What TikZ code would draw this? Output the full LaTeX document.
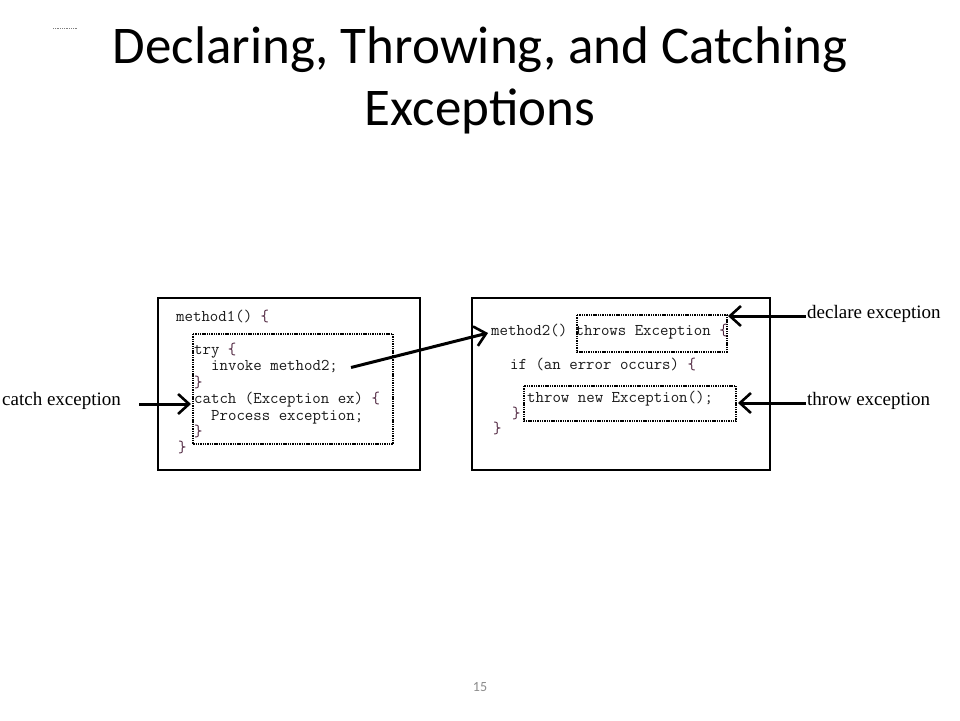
\documentclass[tikz,border=0pt]{standalone}
\usepackage{fontspec}
\setmainfont{Carlito}
\newfontfamily\labelfont{Liberation Serif}
\usetikzlibrary{arrows.meta}
\definecolor{brace}{HTML}{4A1F3A}
\definecolor{pagegray}{HTML}{8C8C8C}
\begin{document}
\begin{tikzpicture}[x=1pt,y=-1pt,
  titletext/.style={font=\fontsize{53}{60}\selectfont, anchor=base, inner sep=0pt},
  code/.style={font=\ttfamily\fontsize{16.4}{18}\selectfont, anchor=base west, inner sep=0pt, text=black!90},
  label/.style={font=\labelfont\fontsize{19}{22}\selectfont, anchor=base west, inner sep=0pt},
  panel/.style={draw=black, line width=2pt},
  region/.style={draw=black, line width=2pt, dash pattern=on 1.4pt off 0.9pt},
  pointer/.style={line width=3pt, -{Straight Barb[length=11pt,width=20pt,line width=2.6pt]}}
]
\useasboundingbox (0,0) rectangle (960,720);
\fill[white] (0,0) rectangle (960,720);

% small dotted mark and slide title
\draw[black!50, line width=0.6pt, dash pattern=on 0.8pt off 1pt] (53,28) -- (77,28);
\node[titletext] (t1) at (480,63) {Declaring, Throwing, and Catching};
\node[titletext] (t2) at (480,125) {Exceptions};

% the two method panels
\draw[panel] (158,298) rectangle (420,470);
\draw[panel] (472,298) rectangle (770,470);

% method1: try/catch region
\draw[region] (193,334) rectangle (393,444);
\node[code] (m1)     at (176,321)   {method1() \textcolor{brace}{\{}};
\node[code] (try)    at (194,354)   {try \textcolor{brace}{\{}};
\node[code] (invoke) at (211,370.5) {invoke method2;};
\node[code] (c1)     at (194,387)   {\textcolor{brace}{\}}};
\node[code] (catch)  at (194,403.5) {catch (Exception ex) \textcolor{brace}{\{}};
\node[code] (proc)   at (211,420)   {Process exception;};
\node[code] (c2)     at (194,436.5) {\textcolor{brace}{\}}};
\node[code] (c3)     at (178,452)   {\textcolor{brace}{\}}};

% method2: throws clause and throw statement regions
\draw[region] (577,315) rectangle (727,352);
\draw[region] (524,386) rectangle (736,421);
\node[code] (m2)     at (491,335) {method2() throws Exception \textcolor{brace}{\{}};
\node[code] (iferr)  at (510,369) {if (an error occurs) \textcolor{brace}{\{}};
\node[code] (throw)  at (527,402) {throw new Exception();};
\node[code] (c4)     at (512,418) {\textcolor{brace}{\}}};
\node[code] (c5)     at (493,433) {\textcolor{brace}{\}}};

% side labels
\node[label] (lcatch) at (2,405)   {catch exception};
\node[label] (ldecl)  at (807,318) {declare exception};
\node[label] (lthrow) at (807,405) {throw exception};

% pointers
\coordinate (callfrom) at (351,367.5);
\coordinate (callto)   at (488,333);
\draw[pointer] (callfrom) -- (callto);
\coordinate (catchfrom) at (139,404);
\coordinate (catchto)   at (191,404);
\draw[pointer] (catchfrom) -- (catchto);
\coordinate (declfrom) at (806,316);
\coordinate (declto)   at (728,316);
\draw[pointer] (declfrom) -- (declto);
\coordinate (thrfrom) at (806,403);
\coordinate (thrto)   at (738,403);
\draw[pointer] (thrfrom) -- (thrto);

% page number
\node[font=\fontsize{14}{16}\selectfont, text=pagegray, inner sep=0pt] (pg) at (480,687) {15};
\end{tikzpicture}
\end{document}
